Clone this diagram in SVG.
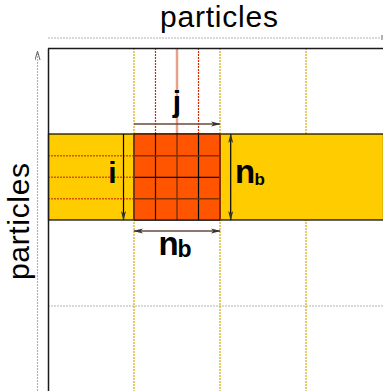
<svg xmlns="http://www.w3.org/2000/svg" width="383" height="391" viewBox="0 0 383 391">
<style>
.lbl{font-family:"Liberation Sans",Arial,sans-serif;fill:#000}
.big{font-size:30px}
.b{font-weight:bold}
.grey{stroke:#b3b3b3;stroke-width:1.2;stroke-dasharray:2,1;fill:none}
.yel{stroke:#d4aa00;stroke-width:1.2;stroke-dasharray:2,1;fill:none}
.red{stroke:#d42a00;stroke-width:1.2;stroke-dasharray:2,1;fill:none}
.sal{stroke:#e9a08a;stroke-width:2.5;fill:none}
.brn{stroke:#803300;stroke-width:1.5;fill:none}
.blk{stroke:#000;stroke-width:1.2;fill:none}
</style>
<defs>
<marker id="ah" viewBox="0 0 10 6" refX="9" refY="3" markerWidth="10" markerHeight="6" markerUnits="userSpaceOnUse" orient="auto-start-reverse">
<path d="M0,0.5 L10,3 L0,5.5 L2.5,3 z" fill="#333"/>
</marker>
<marker id="ahg" viewBox="0 0 6 10" refX="3" refY="1" markerWidth="6" markerHeight="10" markerUnits="userSpaceOnUse">
<path d="M0.5,9 L3,0 L5.5,9" fill="none" stroke="#666" stroke-width="1"/>
</marker>
</defs>
<rect width="383" height="391" fill="#fff"/>

<g id="guides">
<line class="grey" x1="48" y1="38" x2="382" y2="38"/>
<rect x="381" y="35" width="2" height="5" fill="#b3b3b3"/>
<line class="grey" x1="37.5" y1="391" x2="37.5" y2="52" marker-end="url(#ahg)"/>
<line class="grey" x1="48" y1="306" x2="383" y2="306"/>
<line class="yel" x1="134" y1="48" x2="134" y2="391"/>
<line class="yel" x1="220" y1="48" x2="220" y2="391"/>
<line class="yel" x1="306" y1="48" x2="306" y2="391"/>
<line class="red" x1="155.5" y1="48" x2="155.5" y2="134"/>
<line class="red" x1="198.5" y1="48" x2="198.5" y2="134"/>
<line class="sal" x1="177" y1="48" x2="177" y2="134"/>
</g>

<g id="band">
<rect x="48.5" y="134" width="335" height="86" fill="#ffcc00" stroke="#000" stroke-width="1.2"/>
<line class="red" x1="48" y1="155.7" x2="134" y2="155.7" style="stroke:#d45500;stroke-width:1.5"/>
<line class="red" x1="48" y1="177.3" x2="134" y2="177.3" style="stroke:#d45500;stroke-width:1.5"/>
<line class="red" x1="48" y1="198.7" x2="134" y2="198.7" style="stroke:#d45500;stroke-width:1.5"/>
</g>

<g id="block">
<rect x="134" y="134" width="86" height="86" fill="#ff5500"/>
<line class="blk" x1="155.5" y1="134" x2="155.5" y2="220"/>
<line class="brn" x1="177" y1="134" x2="177" y2="220"/>
<line class="blk" x1="198.5" y1="134" x2="198.5" y2="220"/>
<line class="brn" x1="134" y1="155.7" x2="220" y2="155.7"/>
<line class="blk" x1="134" y1="177.3" x2="220" y2="177.3"/>
<line class="brn" x1="134" y1="198.7" x2="220" y2="198.7"/>
<line class="brn" x1="134" y1="134" x2="134" y2="220" style="stroke-width:2"/>
<line class="brn" x1="220" y1="134" x2="220" y2="220" style="stroke-width:2"/>
<line x1="134" y1="134" x2="220" y2="134" stroke="#000" stroke-width="1.2"/>
<line x1="134" y1="220" x2="220" y2="220" stroke="#000" stroke-width="1.2"/>
</g>

<g id="frame">
<line x1="48.5" y1="48.5" x2="48.5" y2="391" stroke="#1a1a1a" stroke-width="1.5"/>
<line x1="48" y1="48.5" x2="383" y2="48.5" stroke="#1a1a1a" stroke-width="1.5"/>
</g>

<g id="connectors">
<line x1="134" y1="124" x2="220" y2="124" stroke="#6b4a3a" stroke-width="1.5" marker-end="url(#ah)"/>
<line x1="134" y1="231" x2="220" y2="231" stroke="#6b4a3a" stroke-width="1.5" marker-start="url(#ah)" marker-end="url(#ah)"/>
<line x1="123.5" y1="134" x2="123.5" y2="220" stroke="#000" stroke-width="1.2" marker-end="url(#ah)"/>
<line x1="230.7" y1="134" x2="230.7" y2="220" stroke="#000" stroke-width="1.2" marker-start="url(#ah)" marker-end="url(#ah)"/>
</g>

<g id="labels">
<text class="lbl big" x="160" y="27" textLength="118" lengthAdjust="spacing">particles</text>
<text class="lbl big" transform="translate(29,280) rotate(-90)" textLength="117" lengthAdjust="spacing">particles</text>
<text class="lbl b" x="177" y="111.5" font-size="30" text-anchor="middle">j</text>
<text class="lbl b" x="112.5" y="183.3" font-size="30" text-anchor="middle">i</text>
<text class="lbl b" x="235" y="183.3" font-size="33">n</text>
<text class="lbl b" x="254.5" y="185" font-size="17">b</text>
<text class="lbl b" x="158.5" y="255" font-size="33">n</text>
<text class="lbl b" x="177.5" y="257.3" font-size="23">b</text>
</g>
</svg>
